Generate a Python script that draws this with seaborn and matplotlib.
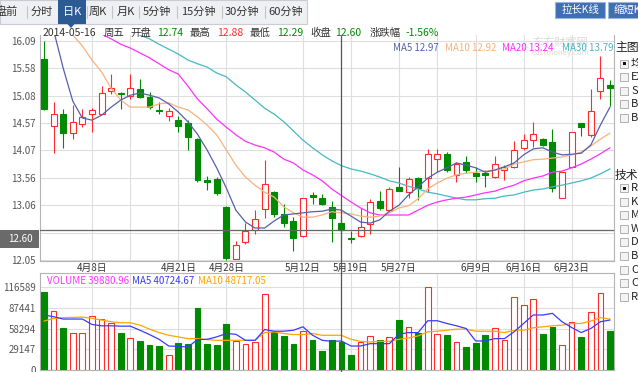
import pandas as pd
import seaborn as sns
import matplotlib.pyplot as plt
from matplotlib.patches import Rectangle, Polygon
from matplotlib.lines import Line2D

sns.set_style("white")
plt.rcParams['font.family'] = ['Noto Sans CJK SC', 'DejaVu Sans']

# daily candles, 2014-03-31 .. 2014-06-27
opens = [15.76, 14.52, 14.74, 14.39, 14.55, 14.74, 14.75, 15.17, 15.14, 15.08,
         15.20, 15.06, 14.82, 14.71, 14.63, 14.57, 14.29, 13.52, 13.54, 13.03,
         12.07, 12.39, 12.60, 12.99, 13.30, 12.90, 12.76, 12.49, 13.24, 13.19,
         13.02, 12.74, 12.46, 12.49, 12.71, 13.14, 12.97, 13.39, 13.31, 13.56,
         13.56, 13.91, 14.00, 13.62, 13.85, 13.65, 13.65, 13.59, 13.71, 13.76,
         14.11, 14.26, 14.29, 14.23, 13.19, 13.76, 14.57, 14.35, 15.17, 15.28]
highs = [16.09, 14.97, 14.83, 14.91, 14.83, 14.86, 15.26, 15.49, 15.15, 15.49,
         15.38, 15.15, 14.97, 14.86, 14.71, 14.63, 14.30, 13.60, 13.59, 13.04,
         12.40, 12.73, 12.97, 13.89, 13.32, 13.08, 12.84, 13.20, 13.31, 13.26,
         13.14, 12.88, 12.58, 13.01, 13.17, 13.33, 13.40, 13.77, 13.59, 13.59,
         14.10, 14.10, 14.04, 13.86, 13.96, 13.77, 13.71, 13.96, 13.80, 14.24,
         14.37, 14.59, 14.30, 14.46, 13.68, 14.42, 14.57, 15.20, 15.82, 15.37]
lows = [14.82, 14.02, 14.11, 14.29, 14.51, 14.42, 14.74, 15.12, 14.83, 15.02,
        15.03, 14.83, 14.75, 14.62, 14.42, 14.07, 13.49, 13.34, 13.25, 12.05,
        12.06, 12.34, 12.52, 12.83, 12.84, 12.66, 12.21, 12.48, 13.09, 13.06,
        12.39, 12.29, 12.36, 12.48, 12.52, 12.97, 12.94, 13.32, 13.19, 13.16,
        13.31, 13.68, 13.68, 13.49, 13.65, 13.49, 13.40, 13.57, 13.52, 13.75,
        14.08, 14.14, 14.15, 13.31, 13.19, 13.76, 14.34, 14.32, 15.02, 14.90]
closes = [14.83, 14.74, 14.40, 14.60, 14.68, 14.82, 15.14, 15.22, 15.11, 15.23,
          15.06, 14.87, 14.79, 14.79, 14.53, 14.31, 13.52, 13.49, 13.28, 12.09,
          12.33, 12.59, 12.80, 13.46, 12.90, 12.73, 12.45, 13.19, 13.21, 13.09,
          12.82, 12.60, 12.44, 12.66, 13.12, 13.00, 13.36, 13.33, 13.54, 13.37,
          14.00, 14.00, 13.71, 13.82, 13.71, 13.60, 13.62, 13.83, 13.77, 14.07,
          14.27, 14.37, 14.17, 13.37, 13.68, 14.42, 14.50, 14.80, 15.40, 15.22]

ma5 = [16.55, 16.29, 15.59, 14.98, 14.67, 14.63, 14.72, 14.87, 15.00, 15.09,
       15.13, 15.09, 15.04, 14.93, 14.78, 14.60, 14.37, 14.08, 13.75, 13.38,
       12.97, 12.75, 12.64, 12.64, 12.77, 12.88, 12.90, 12.92, 12.94, 12.95,
       12.99, 12.97, 12.86, 12.75, 12.73, 12.79, 12.95, 13.06, 13.25, 13.40,
       13.56, 13.67, 13.75, 13.84, 13.80, 13.75, 13.67, 13.71, 13.77, 13.84,
       13.99, 14.10, 14.12, 14.04, 13.99, 14.00, 14.02, 14.17, 14.54, 14.87]
ma10 = [16.80, 16.60, 16.40, 16.20, 16.00, 15.74, 15.52, 15.22, 15.00, 14.87,
        14.87, 14.87, 14.93, 14.95, 14.87, 14.82, 14.69, 14.54, 14.36, 14.08,
        13.80, 13.58, 13.43, 13.30, 13.21, 13.03, 12.92, 12.84, 12.84, 12.88,
        12.94, 12.92, 12.90, 12.86, 12.84, 12.86, 12.92, 13.01, 13.05, 13.18,
        13.36, 13.47, 13.56, 13.62, 13.65, 13.67, 13.69, 13.71, 13.73, 13.82,
        13.86, 13.90, 13.91, 13.93, 13.95, 13.99, 14.04, 14.15, 14.28, 14.39]
ma20 = [16.75, 16.66, 16.59, 16.50, 16.40, 16.31, 16.22, 16.13, 16.03, 15.96,
        15.87, 15.78, 15.67, 15.56, 15.48, 15.26, 15.02, 14.84, 14.65, 14.50,
        14.36, 14.24, 14.17, 14.12, 14.04, 13.91, 13.84, 13.71, 13.62, 13.51,
        13.36, 13.24, 13.12, 13.01, 12.92, 12.88, 12.88, 12.88, 12.88, 12.97,
        13.06, 13.12, 13.16, 13.19, 13.21, 13.25, 13.29, 13.32, 13.38, 13.43,
        13.51, 13.56, 13.60, 13.67, 13.69, 13.75, 13.82, 13.91, 14.01, 14.12]
ma30 = [17.03, 16.96, 16.88, 16.79, 16.72, 16.63, 16.55, 16.46, 16.37, 16.29,
        16.20, 16.13, 16.03, 15.94, 15.85, 15.74, 15.67, 15.61, 15.50, 15.43,
        15.28, 15.15, 15.00, 14.85, 14.74, 14.60, 14.43, 14.26, 14.12, 13.99,
        13.88, 13.79, 13.73, 13.69, 13.64, 13.58, 13.51, 13.47, 13.41, 13.36,
        13.30, 13.27, 13.23, 13.19, 13.16, 13.16, 13.18, 13.19, 13.23, 13.25,
        13.30, 13.34, 13.36, 13.40, 13.43, 13.47, 13.51, 13.56, 13.64, 13.73]

volume = [109500, 83400, 59700, 52600, 52600, 75800, 71100, 65400, 52600, 45500,
          41200, 34600, 33700, 20400, 38400, 37000, 86700, 37000, 34600, 64500,
          40800, 37000, 39300, 106700, 53600, 47400, 37000, 55000, 41700, 26100,
          42700, 39880.96, 20400, 39300, 47900, 42700, 46500, 69700, 60700, 52600,
          116589, 51200, 49800, 39300, 32200, 38400, 48800, 59300, 42700, 101900,
          91500, 100000, 51200, 60700, 34600, 67800, 46500, 82000, 108000, 55000]
vol_ma5 = [77300, 74900, 71600, 71600, 71600, 64000, 62100, 62100, 61600, 61600,
           55900, 49800, 43100, 33700, 33200, 32200, 42700, 43100, 46500, 51200,
           50200, 41700, 41700, 56900, 54500, 54500, 55900, 60700, 48800, 41700,
           40300, 40724.67, 33700, 33700, 37000, 37000, 37000, 50200, 52600, 52600,
           69200, 69200, 65400, 62100, 58300, 40800, 40800, 44100, 44100, 53600,
           65400, 77300, 77300, 79600, 67800, 59700, 52600, 58300, 67800, 70200]
vol_ma10 = [68700, 72500, 73500, 73900, 74400, 72500, 70200, 67800, 66400, 66400,
            63100, 57400, 52600, 48800, 46500, 44100, 44100, 42700, 41700, 41700,
            41700, 41700, 41700, 52600, 53600, 51200, 49800, 49800, 51200, 48800,
            48800, 48717.05, 43100, 40300, 39300, 40300, 40300, 43100, 45000, 47900,
            53600, 54500, 55900, 57400, 57400, 54500, 54500, 54500, 52600, 55900,
            55900, 59300, 60700, 62100, 63000, 65400, 65400, 68700, 73500, 71600]

cursor_idx = 31
cursor_date = "2014-05-16"
cursor_week = "周五"
chg_pct = "-1.56%"

date_grid = [5, 9, 14, 19, 27, 32, 37, 41, 45, 50, 55]
date_labels = ["4月8日", "", "4月21日", "4月28日", "5月12日", "5月19日",
               "5月27日", "", "6月9日", "6月16日", "6月23日"]
price_ticks = [12.05, 12.555, 13.06, 13.565, 14.07, 14.575, 15.08, 15.585, 16.09]
price_labels = ["12.05", "", "13.06", "13.56", "14.07", "14.57", "15.08", "15.58", "16.09"]
vol_ticks = [0, 29147, 58294, 87441, 116589]
vol_labels = ["0", "29147", "58294", "87441", "116589"]

tabs = ["盘前", "分时", "日K", "周K", "月K", "5分钟", "15分钟", "30分钟", "60分钟"]
main_opts = ["均线", "EXPMA", "SAR", "BOLL", "BBI"]
tech_opts = ["RSI", "KDJ", "MACD", "W&R", "DMI", "BIAS", "OBV", "CCI", "ROC"]

RED = "#ff2a2a"
GREEN = "#008a00"
C_MA5, C_MA10, C_MA20, C_MA30 = "#5561a8", "#f7b27c", "#ff30ff", "#45b9c2"
GRID = "#dedede"
LBL = "#555555"

W, H = 638, 372


def fx(px):
    return px / W


def fy(py):
    return 1 - py / H


df = pd.DataFrame({"idx": range(len(closes)), "open": opens, "high": highs,
                   "low": lows, "close": closes, "ma5": ma5, "ma10": ma10,
                   "ma20": ma20, "ma30": ma30, "vol": volume,
                   "vma5": vol_ma5, "vma10": vol_ma10})
df["up"] = df["close"] >= df["open"]

fig = plt.figure(figsize=(W / 100, H / 100), dpi=100)
fig.patch.set_facecolor("white")

# pixel layout of panels
x_left, x_right = 40, 614
step = 9.593
xlim = ((x_left - 44) / step, (x_right - 44) / step)

ax = fig.add_axes([fx(x_left), fy(261), (x_right - x_left) / W, (261 - 35) / H])
axv = fig.add_axes([fx(x_left), fy(370), (x_right - x_left) / W, (370 - 273) / H])

# ---------------- price panel ----------------
ax.set_xlim(*xlim)
ax.set_ylim(12.031, 16.201)
ax.set_yticks(price_ticks)
ax.set_yticklabels(price_labels)
ax.set_xticks(date_grid)
ax.set_xticklabels(date_labels)
ax.grid(True, color=GRID, lw=0.8)
ax.tick_params(axis="y", length=0, pad=3, labelsize=7, labelcolor=LBL)
ax.tick_params(axis="x", length=0, pad=1.5, labelsize=7, labelcolor="#333333")
for s in ["left", "bottom", "right"]:
    ax.spines[s].set_color("#b4b4b4")
    ax.spines[s].set_linewidth(0.8)
ax.spines["top"].set_visible(False)

bw = 0.62
for r in df.itertuples():
    col = RED if r.up else GREEN
    ax.vlines(r.idx, r.low, r.high, color=col, lw=0.8, zorder=3)
    lo = min(r.open, r.close)
    h = max(abs(r.close - r.open), 0.012)
    ax.add_patch(Rectangle((r.idx - bw / 2, lo), bw, h,
                           facecolor="white" if r.up else GREEN,
                           edgecolor=col, lw=0.8, zorder=4))

for col_name, c in [("ma30", C_MA30), ("ma20", C_MA20), ("ma10", C_MA10), ("ma5", C_MA5)]:
    sns.lineplot(data=df, x="idx", y=col_name, ax=ax, color=c, lw=0.9, zorder=5)
ax.set_xlabel("")
ax.set_ylabel("")

# crosshair
ax.axhline(closes[cursor_idx], color="#666666", lw=0.9, zorder=6)

# ---------------- volume panel ----------------
axv.set_xlim(*xlim)
axv.set_ylim(0, 136300)
axv.set_yticks(vol_ticks)
axv.set_yticklabels(vol_labels)
axv.set_xticks(date_grid)
axv.set_xticklabels([])
axv.grid(True, color=GRID, lw=0.8)
axv.tick_params(axis="y", length=0, pad=3, labelsize=7, labelcolor=LBL)
axv.tick_params(axis="x", length=0)
for s in axv.spines.values():
    s.set_color("#b4b4b4")
    s.set_linewidth(0.8)

axv.bar(df["idx"], df["vol"], width=0.6,
        color=["white" if u else GREEN for u in df["up"]],
        edgecolor=[RED if u else GREEN for u in df["up"]], lw=0.8, zorder=3)
sns.lineplot(data=df, x="idx", y="vma10", ax=axv, color="#ffa500", lw=0.9, zorder=5)
sns.lineplot(data=df, x="idx", y="vma5", ax=axv, color="#3a3aff", lw=0.9, zorder=5)
axv.set_xlabel("")
axv.set_ylabel("")

# vertical crosshair through both panels
cx = 44 + cursor_idx * step
fig.add_artist(Line2D([fx(cx), fx(cx)], [fy(36), fy(372)], color="#555555", lw=0.9,
                      transform=fig.transFigure))

# 12.60 price tag on the left
fig.add_artist(Rectangle((0, fy(248)), fx(39), 18 / H, transform=fig.transFigure,
                         facecolor="#6a6a6a", edgecolor="none"))
fig.text(fx(20), fy(239.5), f"{closes[cursor_idx]:.2f}", color="white", fontsize=7,
         ha="center", va="center")

# ---------------- legends ----------------
ma_items = [("MA5", ma5, C_MA5, 393), ("MA10", ma10, C_MA10, 445),
            ("MA20", ma20, C_MA20, 502), ("MA30", ma30, C_MA30, 562)]
for name, arr, c, px in ma_items:
    fig.text(fx(px), fy(48), f"{name} {arr[cursor_idx]:.2f}", color=c, fontsize=7,
             va="center", ha="left")

vol_items = [("VOLUME", volume, "#ff33ff", 47), ("MA5", vol_ma5, "#3a3aff", 132),
             ("MA10", vol_ma10, "#ffa500", 198)]
for name, arr, c, px in vol_items:
    fig.text(fx(px), fy(281), f"{name} {arr[cursor_idx]:.2f}", color=c, fontsize=7,
             va="center", ha="left")

# watermark
fig.text(fx(560), fy(42), "东方财富网", color="#d9d9d9", fontsize=8, ha="center",
         va="center", zorder=0)
fig.text(fx(560), fy(53), "eastmoney.com", color="#d9d9d9", fontsize=5.5, ha="center",
         va="center", zorder=0)

# ---------------- info line ----------------
info = [(cursor_date, 43, "#333333"), (cursor_week, 104, "#333333"),
        ("开盘", 130, "#333333"), (f"{opens[cursor_idx]:.2f}", 157, GREEN),
        ("最高", 190, "#333333"), (f"{highs[cursor_idx]:.2f}", 217, RED),
        ("最低", 250, "#333333"), (f"{lows[cursor_idx]:.2f}", 277, GREEN),
        ("收盘", 310, "#333333"), (f"{closes[cursor_idx]:.2f}", 335, GREEN),
        ("涨跌幅", 370, "#333333"), (chg_pct, 406, GREEN)]
for s, px, c in info:
    fig.text(fx(px), fy(33), s, color=c, fontsize=7.5, ha="left", va="center")

# ---------------- tab bar ----------------
fig.add_artist(Rectangle((0, fy(24)), fx(307), 24 / H, transform=fig.transFigure,
                         facecolor="#eef0f3", edgecolor="#c9cdd3", lw=0.8))
fig.add_artist(Rectangle((fx(58), fy(24)), fx(28), 24 / H, transform=fig.transFigure,
                         facecolor="#2c5b94", edgecolor="none"))
fig.add_artist(Polygon([[fx(67), fy(23.5)], [fx(75), fy(23.5)], [fx(71), fy(28)]],
                       closed=True, transform=fig.transFigure, facecolor="#2c5b94",
                       edgecolor="none"))
tab_x = [7, 42, 72, 98, 126, 157, 198, 242, 286]
for t, px in zip(tabs, tab_x):
    fig.text(fx(px), fy(12), t, color="white" if t == "日K" else "#333333",
             fontsize=8, ha="center", va="center")
for px in [27, 87, 112, 139, 177, 222, 265]:
    fig.add_artist(Line2D([fx(px), fx(px)], [fy(6), fy(18)], color="#c4c4c4", lw=0.8,
                          transform=fig.transFigure))

# buttons
for label, x0, wd in [("拉长K线", 555, 50), ("缩短K线", 608, 50)]:
    fig.add_artist(Rectangle((fx(x0), fy(18)), wd / W, 16 / H, transform=fig.transFigure,
                             facecolor="#3f6fb3", edgecolor="#9ab6dd", lw=0.8))
    fig.text(fx(x0 + wd / 2), fy(10), label, color="white", fontsize=7.5,
             ha="center", va="center")

# ---------------- right side options ----------------
fig.text(fx(615), fy(48), "主图", color="#222222", fontsize=8.5, ha="left", va="center")
fig.text(fx(615), fy(175), "技术", color="#222222", fontsize=8.5, ha="left", va="center")


def checkbox(py, label, checked):
    fig.add_artist(Rectangle((fx(620), fy(py + 4)), 8 / W, 8 / H, transform=fig.transFigure,
                             facecolor="#f3f3f3", edgecolor="#b0b0b0", lw=0.7))
    if checked:
        fig.add_artist(Rectangle((fx(622.5), fy(py + 1.5)), 3 / W, 3 / H,
                                 transform=fig.transFigure, facecolor="#111111",
                                 edgecolor="none"))
    fig.text(fx(631), fy(py), label, color="#222222", fontsize=8, ha="left", va="center")


for k, lab in enumerate(main_opts):
    checkbox(63.5 + 13.5 * k, lab, k == 0)
for k, lab in enumerate(tech_opts):
    checkbox(188 + 13.6 * k, lab, k == 0)

fig.savefig("out.png", dpi=100, facecolor="white")
